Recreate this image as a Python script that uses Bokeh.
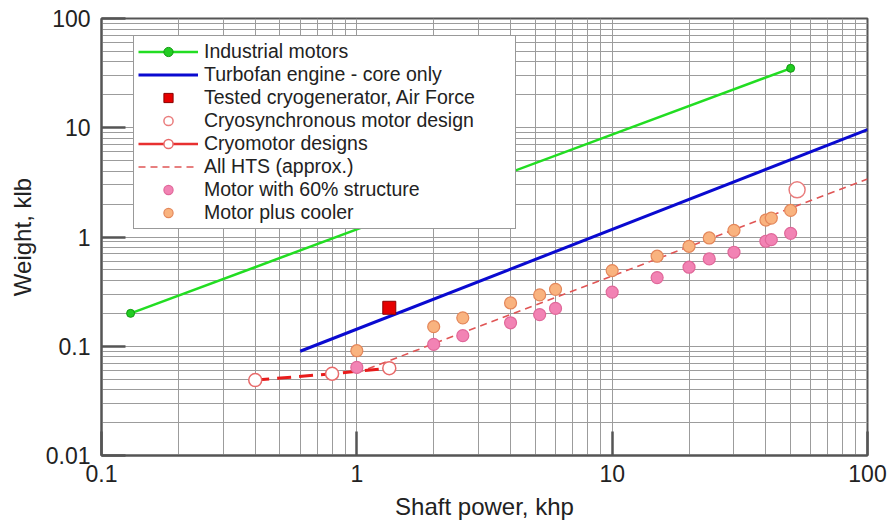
from bokeh.plotting import figure
from bokeh.models import FixedTicker, CustomJSTickFormatter, Legend, LegendItem, Range1d
from bokeh.embed import file_html
from bokeh.resources import INLINE

# ---- data ----
ind_x = [0.13, 50]
ind_y = [0.2, 35]
turbo_x = [0.6, 100]
turbo_y = [0.09, 9.6]
cryogen_x = [1.34]
cryogen_y = [0.225]
cryosync_x = [53]
cryosync_y = [2.7]
cryomotor_x = [0.4, 0.8, 1.34]
cryomotor_y = [0.049, 0.056, 0.063]
hts_x = [1.0, 100]
hts_y = [0.057, 3.4]
motor_x = [1, 2, 2.6, 4, 5.2, 6, 10, 15, 20, 24, 30, 40, 42, 50]
motor60_y = [0.064, 0.104, 0.125, 0.164, 0.195, 0.222, 0.313, 0.425, 0.529, 0.63, 0.725, 0.914, 0.945, 1.08]
cooler_y = [0.091, 0.151, 0.182, 0.249, 0.295, 0.332, 0.493, 0.667, 0.822, 0.98, 1.15, 1.43, 1.49, 1.75]

x_ticks = [0.1, 1, 10, 100]
x_labels = ["0.1", "1", "10", "100"]
y_ticks = [0.01, 0.1, 1, 10, 100]
y_labels = ["0.01", "0.1", "1", "10", "100"]

x_minor = [m * 10.0 ** e for e in range(-1, 2) for m in range(2, 10)]
y_minor = [m * 10.0 ** e for e in range(-2, 2) for m in range(2, 10)]

FONT = "Liberation Sans"
TXT = "#222222"

p = figure(width=888, height=522, x_axis_type="log", y_axis_type="log",
           x_range=(0.1, 100), y_range=(0.01, 100),
           output_backend="svg", toolbar_location=None,
           min_border_left=101, min_border_right=21, min_border_top=18, min_border_bottom=66)
# off-screen range used only to give the "Cryomotor designs" legend entry a solid line
p.extra_y_ranges = {"legend_only": Range1d(start=1e6, end=2e6)}

p.outline_line_color = "#555555"
p.outline_line_width = 2

p.xaxis.ticker = FixedTicker(ticks=x_ticks, minor_ticks=x_minor)
p.yaxis.ticker = FixedTicker(ticks=y_ticks, minor_ticks=y_minor)
code = ("let i = -1; for (let k = 0; k < tks.length; k++) { if (Math.abs(tks[k] - tick) < 1e-6 * tks[k]) { i = k; } }"
        " return i >= 0 ? lbls[i] : '';")
p.xaxis.formatter = CustomJSTickFormatter(args=dict(tks=x_ticks, lbls=x_labels), code=code)
p.yaxis.formatter = CustomJSTickFormatter(args=dict(tks=y_ticks, lbls=y_labels), code=code)

p.xaxis.axis_label = "Shaft power, khp"
p.yaxis.axis_label = "Weight, klb"
for ax in p.axis:
    ax.axis_label_text_font = FONT
    ax.axis_label_text_font_style = "normal"
    ax.axis_label_text_font_size = "24px"
    ax.axis_label_text_color = TXT
    ax.major_label_text_font = FONT
    ax.major_label_text_font_size = "23px"
    ax.major_label_text_color = TXT
    ax.axis_line_color = "#555555"
    ax.axis_line_width = 2
    ax.major_tick_in = 24
    ax.major_tick_out = 0
    ax.major_tick_line_color = "#555555"
    ax.major_tick_line_width = 2.5
    ax.minor_tick_in = 0
    ax.minor_tick_out = 0
p.xaxis.major_label_standoff = 9
p.xaxis.axis_label_standoff = 8
p.yaxis.major_label_standoff = 11
p.yaxis.axis_label_standoff = 7

p.grid.grid_line_color = "#9c9c9c"
p.grid.grid_line_width = 1
p.grid.minor_grid_line_color = "#9c9c9c"
p.grid.minor_grid_line_width = 1

# ---- glyphs ----
r_ind_l = p.line(ind_x, ind_y, line_color="#22dd22", line_width=2.5)
r_ind_c = p.scatter(ind_x, ind_y, marker="circle", size=8, fill_color="#22cc22", line_color="#119911", line_width=1)
r_turbo = p.line(turbo_x, turbo_y, line_color="#0a0ad0", line_width=3)
r_hts = p.line(hts_x, hts_y, line_color="#e05555", line_width=1.6, line_dash="7 5")
r_cm_l = p.line(cryomotor_x, cryomotor_y, line_color="#e81c1c", line_width=3, line_dash="14 8")
r_cm_leg = p.line(cryomotor_x, cryomotor_y, y_range_name="legend_only", line_color="#e83030", line_width=2.5)
r_cm_c = p.scatter(cryomotor_x, cryomotor_y, marker="circle", size=13, fill_color="white",
                   line_color="#e86a6a", line_width=1.5)
r_cs = p.scatter(cryosync_x, cryosync_y, marker="circle", size=16, fill_color="white",
                 line_color="#ea7d7d", line_width=1.5)
r_cg = p.scatter(cryogen_x, cryogen_y, marker="square", size=13, fill_color="#e60000",
                 line_color="#8a0000", line_width=1)
r_60 = p.scatter(motor_x, motor60_y, marker="circle", size=12, fill_color="#f283b4",
                 line_color="#e0689a", line_width=1.2)
r_co = p.scatter(motor_x, cooler_y, marker="circle", size=12, fill_color="#f9b37f",
                 line_color="#e4875a", line_width=1.2)

items = [
    LegendItem(label="Industrial motors", renderers=[r_ind_l, r_ind_c]),
    LegendItem(label="Turbofan engine - core only", renderers=[r_turbo]),
    LegendItem(label="Tested cryogenerator, Air Force", renderers=[r_cg]),
    LegendItem(label="Cryosynchronous motor design", renderers=[r_cs]),
    LegendItem(label="Cryomotor designs", renderers=[r_cm_leg, r_cm_c]),
    LegendItem(label="All HTS (approx.)", renderers=[r_hts]),
    LegendItem(label="Motor with 60% structure", renderers=[r_60]),
    LegendItem(label="Motor plus cooler", renderers=[r_co]),
]
legend = Legend(items=items, location=(32, 226))
legend.label_text_font = FONT
legend.label_text_font_size = "19.5px"
legend.label_text_color = TXT
legend.glyph_width = 60
legend.glyph_height = 23
legend.label_height = 20
legend.label_width = 307
legend.spacing = 0
legend.padding = 4
legend.margin = 0
legend.label_standoff = 6
legend.border_line_color = "#333333"
legend.border_line_width = 1.8
legend.background_fill_color = "white"
legend.background_fill_alpha = 1
p.add_layout(legend)

open("out.html", "w").write(file_html(p, INLINE))
